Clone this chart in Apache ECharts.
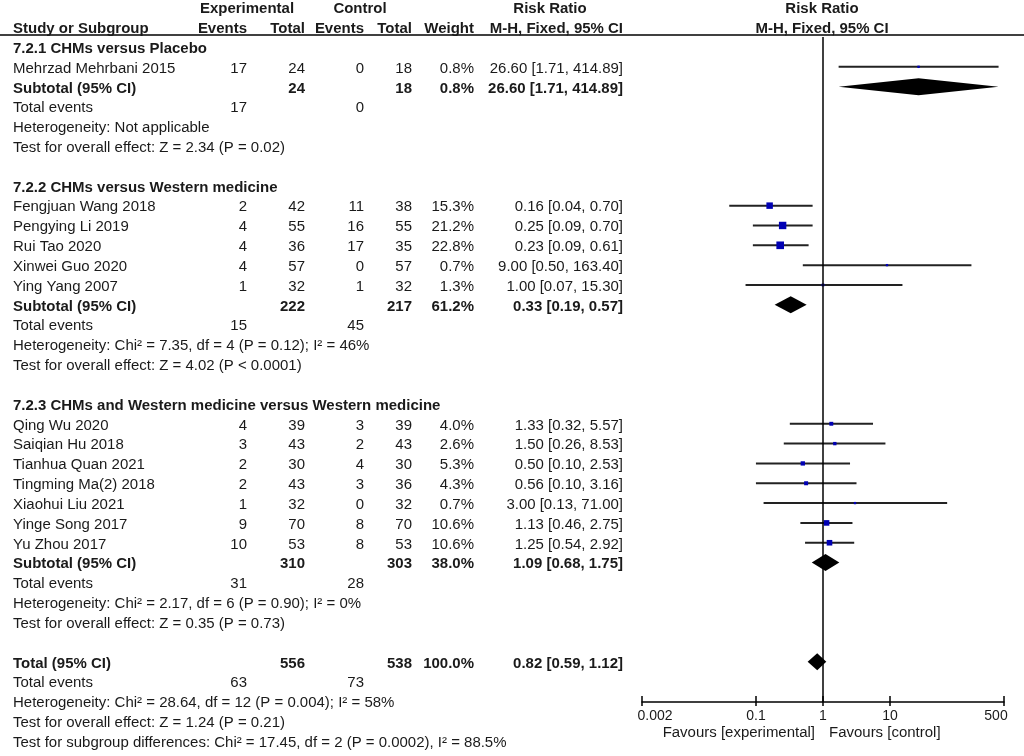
<!DOCTYPE html>
<html><head><meta charset="utf-8">
<script src="https://cdn.jsdelivr.net/npm/echarts@6/dist/echarts.min.js"></script>
<style>html,body{margin:0;padding:0;background:#fff}#c{width:1024px;height:756px}</style>
</head><body><div id="c"></div>
<script>
// ---------- data ----------
const groupTitles = ['7.2.1 CHMs versus Placebo', '7.2.2 CHMs versus Western medicine', '7.2.3 CHMs and Western medicine versus Western medicine'];
const studyNames = ['Mehrzad Mehrbani 2015', 'Fengjuan Wang 2018', 'Pengying Li 2019', 'Rui Tao 2020', 'Xinwei Guo 2020', 'Ying Yang 2007',
  'Qing Wu 2020', 'Saiqian Hu 2018', 'Tianhua Quan 2021', 'Tingming Ma(2) 2018', 'Xiaohui Liu 2021', 'Yinge Song 2017', 'Yu Zhou 2017'];
const studyGroup = [0, 1, 1, 1, 1, 1, 2, 2, 2, 2, 2, 2, 2];
const expEvents = [17, 2, 4, 4, 4, 1, 4, 3, 2, 2, 1, 9, 10];
const expTotal = [24, 42, 55, 36, 57, 32, 39, 43, 30, 43, 32, 70, 53];
const ctrlEvents = [0, 11, 16, 17, 0, 1, 3, 2, 4, 3, 0, 8, 8];
const ctrlTotal = [18, 38, 55, 35, 57, 32, 39, 43, 30, 36, 32, 70, 53];
const weights = [0.8, 15.3, 21.2, 22.8, 0.7, 1.3, 4.0, 2.6, 5.3, 4.3, 0.7, 10.6, 10.6];
const riskRatio = [26.60, 0.16, 0.25, 0.23, 9.00, 1.00, 1.33, 1.50, 0.50, 0.56, 3.00, 1.13, 1.25];
const ciLow = [1.71, 0.04, 0.09, 0.09, 0.50, 0.07, 0.32, 0.26, 0.10, 0.10, 0.13, 0.46, 0.54];
const ciHigh = [414.89, 0.70, 0.70, 0.61, 163.40, 15.30, 5.57, 8.53, 2.53, 3.16, 71.00, 2.75, 2.92];

const subExpTotal = [24, 222, 310];
const subCtrlTotal = [18, 217, 303];
const subWeight = [0.8, 61.2, 38.0];
const subRR = [26.60, 0.33, 1.09];
const subLow = [1.71, 0.19, 0.68];
const subHigh = [414.89, 0.57, 1.75];
const subExpEvents = [17, 15, 31];
const subCtrlEvents = [0, 45, 28];
const subHet = ['Heterogeneity: Not applicable',
  'Heterogeneity: Chi² = 7.35, df = 4 (P = 0.12); I² = 46%',
  'Heterogeneity: Chi² = 2.17, df = 6 (P = 0.90); I² = 0%'];
const subTest = ['Test for overall effect: Z = 2.34 (P = 0.02)',
  'Test for overall effect: Z = 4.02 (P < 0.0001)',
  'Test for overall effect: Z = 0.35 (P = 0.73)'];

const totExpTotal = 556, totCtrlTotal = 538, totWeight = 100.0;
const totRR = 0.82, totLow = 0.59, totHigh = 1.12;
const totExpEvents = 63, totCtrlEvents = 73;
const totHet = 'Heterogeneity: Chi² = 28.64, df = 12 (P = 0.004); I² = 58%';
const totTest = 'Test for overall effect: Z = 1.24 (P = 0.21)';
const subgroupDiff = 'Test for subgroup differences: Chi² = 17.45, df = 2 (P = 0.0002), I² = 88.5%';

const tickValues = [0.002, 0.1, 1, 10, 500];
const tickLabels = ['0.002', '0.1', '1', '10', '500'];

// ---------- layout ----------
const FONT = '"Liberation Sans", Arial, sans-serif';
const FS = 14;
const SX = 1.07;                     // horizontal stretch of the table text
const Y0 = 47, RH = 19.83;           // pixel y of row 0, row height
const rowOfPx = px => (px - Y0) / RH;
const AXIS_Y = 702;
const COL = { name: 13, ee: 247, et: 305, ce: 364, ct: 412, w: 474, rr: 623 };
const TEXT_DY = 2;

const cells = [];
function add(x, row, t, a, b) { cells.push({ x: x, r: row, t: String(t), a: a, b: !!b }); }
const f2 = v => v.toFixed(2);
const ciText = (e, l, h) => f2(e) + ' [' + f2(l) + ', ' + f2(h) + ']';

// headers
add(247, -2, 'Experimental', 'center', 1);
add(360, -2, 'Control', 'center', 1);
add(550, -2, 'Risk Ratio', 'center', 1);
add(822, -2, 'Risk Ratio', 'center', 1);
add(COL.name, -1, 'Study or Subgroup', 'left', 1);
add(COL.ee, -1, 'Events', 'right', 1);
add(COL.et, -1, 'Total', 'right', 1);
add(COL.ce, -1, 'Events', 'right', 1);
add(COL.ct, -1, 'Total', 'right', 1);
add(COL.w, -1, 'Weight', 'right', 1);
add(COL.rr, -1, 'M-H, Fixed, 95% CI', 'right', 1);
add(822, -1, 'M-H, Fixed, 95% CI', 'center', 1);

const L = Math.log10;
const studyPts = [];
const diamonds = [];
let r = 0;
groupTitles.forEach((title, g) => {
  add(COL.name, r, title, 'left', 1); r++;
  studyGroup.forEach((sg, i) => {
    if (sg !== g) return;
    add(COL.name, r, studyNames[i], 'left');
    add(COL.ee, r, expEvents[i], 'right');
    add(COL.et, r, expTotal[i], 'right');
    add(COL.ce, r, ctrlEvents[i], 'right');
    add(COL.ct, r, ctrlTotal[i], 'right');
    add(COL.w, r, weights[i].toFixed(1) + '%', 'right');
    add(COL.rr, r, ciText(riskRatio[i], ciLow[i], ciHigh[i]), 'right');
    studyPts.push([L(ciLow[i]), L(ciHigh[i]), L(riskRatio[i]), r, weights[i]]);
    r++;
  });
  add(COL.name, r, 'Subtotal (95% CI)', 'left', 1);
  add(COL.et, r, subExpTotal[g], 'right', 1);
  add(COL.ct, r, subCtrlTotal[g], 'right', 1);
  add(COL.w, r, subWeight[g].toFixed(1) + '%', 'right', 1);
  add(COL.rr, r, ciText(subRR[g], subLow[g], subHigh[g]), 'right', 1);
  diamonds.push([L(subLow[g]), L(subHigh[g]), L(subRR[g]), r]);
  r++;
  add(COL.name, r, 'Total events', 'left');
  add(COL.ee, r, subExpEvents[g], 'right');
  add(COL.ce, r, subCtrlEvents[g], 'right'); r++;
  add(COL.name, r, subHet[g], 'left'); r++;
  add(COL.name, r, subTest[g], 'left'); r++;
  r++;
});
add(COL.name, r, 'Total (95% CI)', 'left', 1);
add(COL.et, r, totExpTotal, 'right', 1);
add(COL.ct, r, totCtrlTotal, 'right', 1);
add(COL.w, r, totWeight.toFixed(1) + '%', 'right', 1);
add(COL.rr, r, ciText(totRR, totLow, totHigh), 'right', 1);
diamonds.push([L(totLow), L(totHigh), L(totRR), r]);
r++;
add(COL.name, r, 'Total events', 'left');
add(COL.ee, r, totExpEvents, 'right');
add(COL.ce, r, totCtrlEvents, 'right'); r++;
add(COL.name, r, totHet, 'left'); r++;
add(COL.name, r, totTest, 'left'); r++;
add(COL.name, r, subgroupDiff, 'left'); r++;
add(815, rowOfPx(733) - TEXT_DY / RH, 'Favours [experimental]', 'right');
add(829, rowOfPx(733) - TEXT_DY / RH, 'Favours [control]', 'left');

const gridTop = Y0 - 2 * RH;
const plotMax = -2 + (AXIS_Y - gridTop) / RH;
const tickLogs = tickValues.map(L);
const xMin = L(tickValues[0]), xMax = L(tickValues[tickValues.length - 1]);

function tickLabel(v) {
  const i = tickLogs.findIndex(t => Math.abs(t - v) < 1e-6);
  if (i < 0) return '';
  if (i === 0) return '{first|' + tickLabels[i] + '}';
  if (i === tickLabels.length - 1) return '{last|' + tickLabels[i] + '}';
  return '{mid|' + tickLabels[i] + '}';
}
const lblStyle = { fontSize: FS, fontFamily: FONT, color: '#1a1a1a' };

const chart = echarts.init(document.getElementById('c'), null, { renderer: 'canvas' });
chart.setOption({
  backgroundColor: '#fff',
  animation: false,
  grid: [
    { left: 0, right: 0, top: gridTop, height: 37 * RH },
    { left: 642, right: 20, top: gridTop, height: AXIS_Y - gridTop }
  ],
  xAxis: [
    { gridIndex: 0, type: 'value', min: 0, max: 1024, show: false },
    { gridIndex: 1, type: 'value', min: xMin, max: xMax, position: 'bottom',
      axisLine: { show: true, onZero: false, lineStyle: { color: '#000', width: 1.5 } },
      axisTick: { show: true, customValues: tickLogs, length: 4, lineStyle: { color: '#000', width: 1.5 } },
      axisLabel: { show: true, customValues: tickLogs, margin: 7, formatter: tickLabel,
        rich: { first: Object.assign({ padding: [0, 0, 0, 26] }, lblStyle),
                mid: Object.assign({}, lblStyle),
                last: Object.assign({ padding: [0, 16, 0, 0] }, lblStyle) } },
      splitLine: { show: false } },
    { gridIndex: 1, type: 'value', min: xMin, max: xMax, position: 'bottom',
      axisLine: { show: false, onZero: false },
      axisTick: { show: true, inside: true, customValues: tickLogs, length: 6, lineStyle: { color: '#000', width: 1.5 } },
      axisLabel: { show: false }, splitLine: { show: false } }
  ],
  yAxis: [
    { gridIndex: 0, type: 'value', min: -2, max: 35, inverse: true, show: false },
    { gridIndex: 1, type: 'value', min: -2, max: plotMax, inverse: true, show: false }
  ],
  series: [
    { // header rule
      type: 'custom', xAxisIndex: 0, yAxisIndex: 0, silent: true,
      data: [[0, 1024, rowOfPx(35)]],
      renderItem: (params, api) => {
        const a = api.coord([api.value(0), api.value(2)]);
        const b = api.coord([api.value(1), api.value(2)]);
        return { type: 'line', shape: { x1: a[0], y1: a[1], x2: b[0], y2: b[1] }, style: { stroke: '#000', lineWidth: 1.5 } };
      }
    },
    { // line of no effect
      type: 'line', xAxisIndex: 1, yAxisIndex: 1, symbol: 'none', silent: true,
      lineStyle: { color: '#000', width: 1.5 },
      data: [[L(1), rowOfPx(37)], [L(1), plotMax]]
    },
    { // study CIs and squares
      type: 'custom', xAxisIndex: 1, yAxisIndex: 1, silent: true,
      data: studyPts,
      renderItem: (params, api) => {
        const lo = api.coord([api.value(0), api.value(3)]);
        const hi = api.coord([api.value(1), api.value(3)]);
        const c = api.coord([api.value(2), api.value(3)]);
        const s = 1.2 + 1.35 * Math.sqrt(api.value(4));
        return { type: 'group', children: [
          { type: 'line', shape: { x1: lo[0], y1: lo[1], x2: hi[0], y2: hi[1] }, style: { stroke: '#222', lineWidth: 2 } },
          { type: 'rect', shape: { x: c[0] - s / 2, y: c[1] - s / 2, width: s, height: s }, style: { fill: '#0000b4' } }
        ] };
      }
    },
    { // pooled diamonds
      type: 'custom', xAxisIndex: 1, yAxisIndex: 1, silent: true,
      data: diamonds,
      renderItem: (params, api) => {
        const lo = api.coord([api.value(0), api.value(3)]);
        const hi = api.coord([api.value(1), api.value(3)]);
        const c = api.coord([api.value(2), api.value(3)]);
        const h = 8.5;
        return { type: 'polygon', shape: { points: [[lo[0], lo[1]], [c[0], c[1] - h], [hi[0], hi[1]], [c[0], c[1] + h]] }, style: { fill: '#000' } };
      }
    },
    { // table text
      type: 'custom', xAxisIndex: 0, yAxisIndex: 0, silent: true,
      data: cells.map((c, i) => [c.x, c.r, i]),
      renderItem: (params, api) => {
        const c = cells[params.dataIndex];
        const p = api.coord([api.value(0), api.value(1)]);
        return { type: 'text', x: p[0], y: p[1] + TEXT_DY, scaleX: SX, scaleY: 1,
          style: { text: c.t, align: c.a, verticalAlign: 'middle', fontSize: FS, fontFamily: FONT,
                   fontWeight: c.b ? 'bold' : 'normal', fill: '#1a1a1a' } };
      }
    }
  ]
});
</script>
</body></html>
